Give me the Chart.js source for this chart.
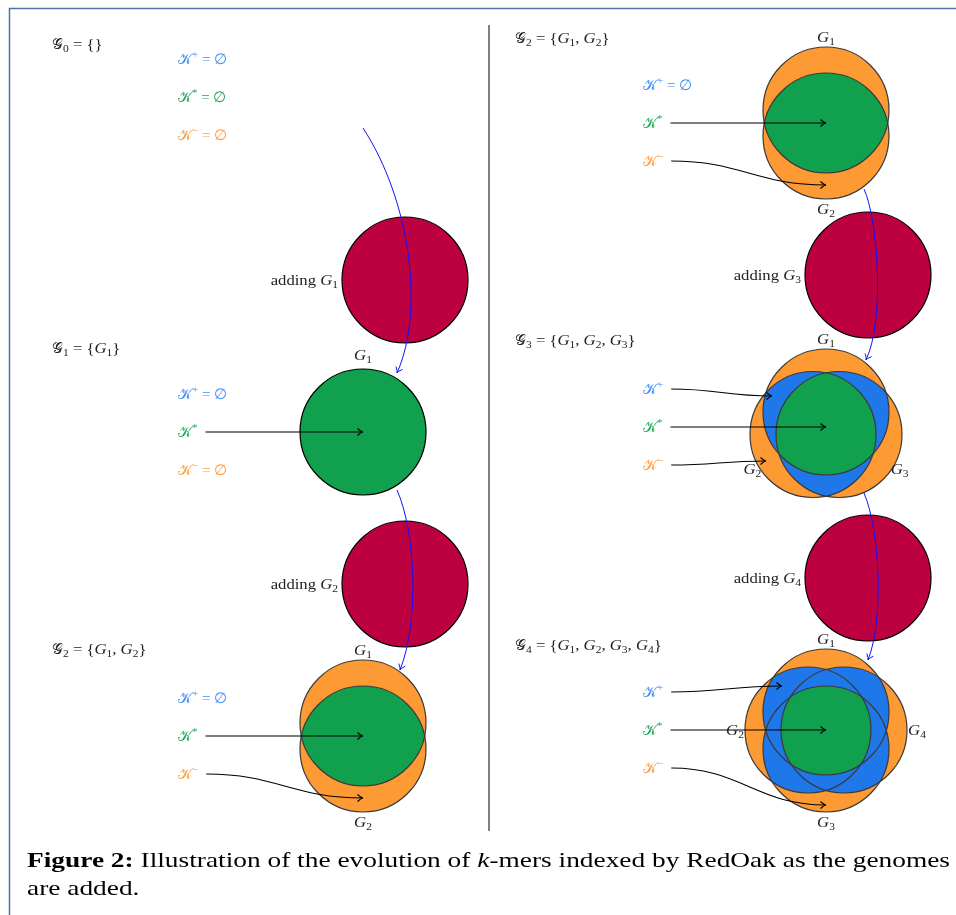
<!DOCTYPE html>
<html>
<head>
<meta charset="utf-8">
<script src="https://cdn.jsdelivr.net/npm/chart.js@4.4.1/dist/chart.umd.min.js"></script>
<style>
  html, body { margin: 0; padding: 0; background: #fff; }
</style>
</head>
<body>
<canvas id="diagram" width="956" height="915"></canvas>
<script>
// Stages of the index: genomes in the set at each step
const stageMembers = [[], [1], [1, 2], [1, 2], [1, 2, 3], [1, 2, 3, 4]];
// Which k-mer sets are still empty at each stage
const kPlusEmpty  = [true, true, true, true, false, false];
const kStarEmpty  = [true, false, false, false, false, false];
const kMinusEmpty = [true, true, false, false, false, false];
// Genome added between stages
const addedGenome = [1, 2, 3, 4];

// Layout, in diagram units (1 unit = 1 px of the 956x915 page)
const stageTitlePos = [[52, 44], [52, 348], [52, 649], [515, 38], [515, 340], [515, 645]];
const stageCenter   = [[363, 97], [363, 432], [363, 736], [826, 123], [826, 427], [826, 730]];
const kLabelX       = [178, 178, 178, 643, 643, 643];
const addingCenter  = [[405, 280], [405, 584], [868, 275], [868, 578]];
const flowFrom      = [[363, 128], [397, 490], [864, 189], [864, 493]];
const flowCtrl1     = [[410, 200], [415, 530], [878, 220], [880, 530]];
const flowCtrl2     = [[425, 310], [420, 620], [885, 320], [884, 620]];
const flowTo        = [[397, 373], [400, 670], [866, 360], [868, 660]];

const R = 63;
// circle offsets from the stage centre, per number of genomes
const vennOffsets = {
    1: [[0, 0]],
    2: [[0, -13], [0, 13]],
    3: [[0, -15], [-13, 7.5], [13, 7.5]],
    4: [[0, -18], [-18, 0], [0, 19], [18, 0]]
};
const kPlusTarget  = { 3: [-54, -31], 4: [-44, -44] };
const kMinusTarget = { 2: [0, 62], 3: [-60, 34], 4: [0, 75] };

const ORANGE = "#fd9a33";
const GREEN = "#11a14e";
const BLUE = "#1e78ea";
const RED = "#bd003f";
const TXT_BLUE = "#3f8ef2";
const TXT_GREEN = "#24a85a";
const TXT_ORANGE = "#ff9a3c";
const SERIF = '"Liberation Serif", "DejaVu Serif", serif';
const STRETCH = 1.15;   // Computer Modern is wider than Times

// draw a list of [text, kind] parts: r roman, i italic, c script, s subscript, p superscript, b bold
function fontFor(k, size) {
    if (k === "i") return `italic ${size}px ${SERIF}`;
    if (k === "s" || k === "p") return `${Math.round(size * 0.72)}px ${SERIF}`;
    if (k === "c") return `${size}px "DejaVu Serif", "DejaVu Sans", ${SERIF}`;
    if (k === "b") return `bold ${size}px ${SERIF}`;
    return `${size}px ${SERIF}`;
}

function partScale(k, sx) {
    return k === "c" ? 1 : sx;
}

function richWidth(ctx, parts, size, sx) {
    let total = 0;
    parts.forEach(p => {
        ctx.font = fontFor(p[1], size);
        total += ctx.measureText(p[0]).width * partScale(p[1], sx);
    });
    return total;
}

function drawRich(ctx, parts, x, y, size, color, align, sx) {
    sx = sx || 1;
    const total = richWidth(ctx, parts, size, sx);
    let cx = x;
    if (align === "center") cx = x - total / 2;
    if (align === "right") cx = x - total;
    const base = y + size * 0.33;
    ctx.fillStyle = color;
    ctx.textBaseline = "alphabetic";
    ctx.textAlign = "left";
    parts.forEach(p => {
        ctx.font = fontFor(p[1], size);
        let dy = 0;
        if (p[1] === "s") dy = size * 0.22;
        if (p[1] === "p") dy = -size * 0.38;
        const k = partScale(p[1], sx);
        ctx.save();
        ctx.translate(cx, base + dy);
        ctx.scale(k, 1);
        ctx.fillText(p[0], 0, 0);
        ctx.restore();
        cx += ctx.measureText(p[0]).width * k;
    });
    return total;
}

function arrowHead(ctx, x, y, ang) {
    const L = 5.5, W = 3.5;
    const bx = x - 1.5 * Math.cos(ang), by = y - 1.5 * Math.sin(ang);
    ctx.beginPath();
    ctx.moveTo(x - L * Math.cos(ang) - W * Math.sin(ang), y - L * Math.sin(ang) + W * Math.cos(ang));
    ctx.quadraticCurveTo(bx, by, x, y);
    ctx.quadraticCurveTo(bx, by, x - L * Math.cos(ang) + W * Math.sin(ang), y - L * Math.sin(ang) - W * Math.cos(ang));
    ctx.stroke();
}

function bezierArrow(ctx, p0, p1, p2, p3, color, width) {
    ctx.strokeStyle = color;
    ctx.lineWidth = width;
    ctx.beginPath();
    ctx.moveTo(p0[0], p0[1]);
    ctx.bezierCurveTo(p1[0], p1[1], p2[0], p2[1], p3[0], p3[1]);
    ctx.stroke();
    arrowHead(ctx, p3[0], p3[1], Math.atan2(p3[1] - p2[1], p3[0] - p2[0]));
}

function circlePath(ctx, c, r) {
    ctx.beginPath();
    ctx.arc(c[0], c[1], r, 0, 2 * Math.PI);
}

function drawVenn(ctx, circles, r, area) {
    const n = circles.length;
    circles.forEach(c => { circlePath(ctx, c, r); ctx.fillStyle = ORANGE; ctx.fill(); });
    if (n >= 3) {
        for (let i = 0; i < n; i++) {
            for (let j = i + 1; j < n; j++) {
                ctx.save();
                circlePath(ctx, circles[i], r);
                ctx.clip();
                circlePath(ctx, circles[j], r);
                ctx.fillStyle = BLUE;
                ctx.fill();
                ctx.restore();
            }
        }
    }
    ctx.save();
    circles.forEach(c => { circlePath(ctx, c, r); ctx.clip(); });
    ctx.fillStyle = GREEN;
    ctx.fillRect(area.left, area.top, area.right - area.left, area.bottom - area.top);
    ctx.restore();
    ctx.strokeStyle = n === 1 ? "#000" : "#3a3a3a";
    ctx.lineWidth = 1.2;
    circles.forEach(c => { circlePath(ctx, c, r); ctx.stroke(); });
}

const diagramPlugin = {
    id: "diagram",
    beforeDatasetsDraw(chart) {
        const ctx = chart.ctx;
        const xs = chart.scales.x, ys = chart.scales.y;
        const px = p => [xs.getPixelForValue(p[0]), ys.getPixelForValue(p[1])];
        const pr = Math.abs(xs.getPixelForValue(R) - xs.getPixelForValue(0));
        ctx.save();
        stageMembers.forEach((members, s) => {
            const n = members.length;
            if (!n) return;
            const c = stageCenter[s];
            const circles = vennOffsets[n].map(o => px([c[0] + o[0], c[1] + o[1]]));
            drawVenn(ctx, circles, pr, chart.chartArea);
        });
        ctx.restore();
    },
    afterDatasetsDraw(chart) {
        const ctx = chart.ctx;
        const xs = chart.scales.x, ys = chart.scales.y;
        const px = p => [xs.getPixelForValue(p[0]), ys.getPixelForValue(p[1])];
        ctx.save();

        // frame and divider
        ctx.strokeStyle = "#4e74a6";
        ctx.lineWidth = 1.5;
        const f0 = px([9.5, 8.5]);
        ctx.strokeRect(f0[0], f0[1], 1000, 1000);
        ctx.strokeStyle = "#000";
        ctx.lineWidth = 1;
        const d0 = px([489, 25]), d1 = px([489, 831]);
        ctx.beginPath();
        ctx.moveTo(d0[0], d0[1]);
        ctx.lineTo(d1[0], d1[1]);
        ctx.stroke();

        // flow arrows between stages
        flowFrom.forEach((f, i) => {
            bezierArrow(ctx, px(f), px(flowCtrl1[i]), px(flowCtrl2[i]), px(flowTo[i]), "#1010ff", 1);
        });

        // adding labels
        addingCenter.forEach((c, i) => {
            const p = px([c[0] - R - 4, c[1]]);
            drawRich(ctx, [["adding ", "r"], ["G", "i"], [String(addedGenome[i]), "s"]],
                p[0], p[1], 14.5, "#222", "right", STRETCH);
        });

        stageMembers.forEach((members, s) => {
            const n = members.length;
            const c = stageCenter[s];
            // stage title
            const title = [["𝒢", "c"], [String(n), "s"], [" = {", "r"]];
            members.forEach((g, k) => {
                if (k) title.push([", ", "r"]);
                title.push(["G", "i"], [String(g), "s"]);
            });
            title.push(["}", "r"]);
            const tp = px(stageTitlePos[s]);
            drawRich(ctx, title, tp[0], tp[1], 14.5, "#222", "left", STRETCH);

            // k-mer set labels
            const kx = kLabelX[s];
            const rows = [
                ["+", kPlusEmpty[s], TXT_BLUE, -38, kPlusTarget[n]],
                ["*", kStarEmpty[s], TXT_GREEN, 0, [0, 0]],
                ["−", kMinusEmpty[s], TXT_ORANGE, 38, kMinusTarget[n]]
            ];
            rows.forEach(row => {
                const lp = px([kx, c[1] + row[3]]);
                const parts = [["𝒦", "c"], [row[0], "p"]];
                if (row[1]) parts.push([" = ∅", "r"]);
                const w = drawRich(ctx, parts, lp[0], lp[1], 15, row[2], "left", 1);
                if (!row[1] && row[4]) {
                    const a = [lp[0] + w + 8, lp[1]];
                    const b = px([c[0] + row[4][0], c[1] + row[4][1]]);
                    const dx = (b[0] - a[0]) * 0.45;
                    bezierArrow(ctx, a, [a[0] + dx, a[1]], [b[0] - dx, b[1]], b, "#000", 1.2);
                }
            });

            // genome labels around the venn
            if (n) {
                vennOffsets[n].forEach((o, k) => {
                    let dir = [o[0], o[1]];
                    const len = Math.hypot(dir[0], dir[1]);
                    dir = len ? [dir[0] / len, dir[1] / len] : [0, -1];
                    const dist = n === 1 ? 77 : (n === 3 && k ? 70 : 73);
                    const lp = px([c[0] + o[0] + dir[0] * dist, c[1] + o[1] + dir[1] * dist]);
                    drawRich(ctx, [["G", "i"], [String(members[k]), "s"]], lp[0], lp[1], 14.5, "#222", "center", STRETCH);
                });
            }
        });

        // caption, stretched horizontally to the text width of the page
        const cap1 = [["Figure 2:", "b"], [" Illustration of the evolution of ", "r"], ["k", "i"],
            ["-mers indexed by RedOak as the genomes", "r"]];
        const capSize = 21;
        const sx = 923 / richWidth(ctx, cap1, capSize, 1);
        const c1 = px([27, 860]);
        const c2 = px([27, 888]);
        drawRich(ctx, cap1, c1[0], c1[1], capSize, "#000", "left", sx);
        drawRich(ctx, [["are added.", "r"]], c2[0], c2[1], capSize, "#000", "left", sx);

        ctx.restore();
    }
};

new Chart(document.getElementById("diagram"), {
    type: "bubble",
    data: {
        datasets: [{
            label: "adding",
            data: addingCenter.map(c => ({ x: c[0], y: c[1] })),
            radius: R,
            backgroundColor: RED,
            borderColor: "#000",
            borderWidth: 1.2,
            clip: false
        }]
    },
    options: {
        responsive: false,
        animation: false,
        events: [],
        layout: { padding: 0, autoPadding: false },
        plugins: {
            legend: { display: false },
            tooltip: { enabled: false }
        },
        scales: {
            x: { type: "linear", min: 0, max: 956, display: false },
            y: { type: "linear", min: 0, max: 915, reverse: true, display: false }
        }
    },
    plugins: [diagramPlugin]
});
</script>
</body>
</html>
